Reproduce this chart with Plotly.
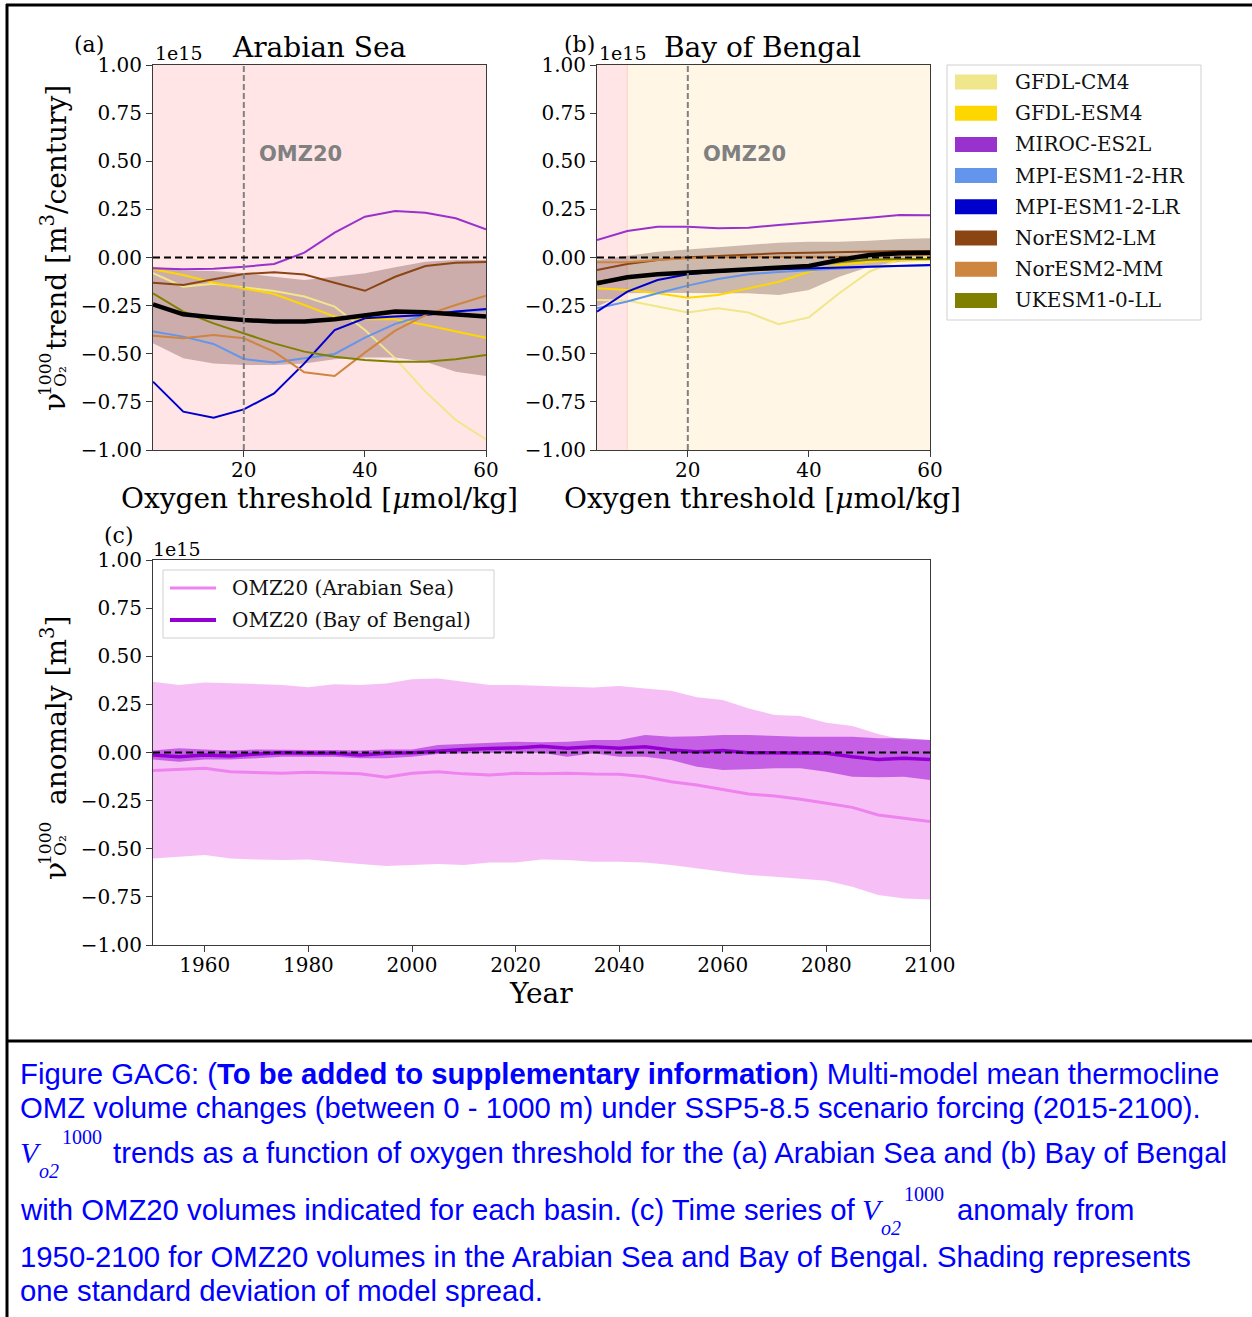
import plotly.graph_objects as go

W, H = 1252, 1317

# ---------------- data ----------------
thresholds = [5, 10, 15, 20, 25, 30, 35, 40, 45, 50, 55, 60]
models = ["GFDL-CM4", "GFDL-ESM4", "MIROC-ES2L", "MPI-ESM1-2-HR",
          "MPI-ESM1-2-LR", "NorESM2-LM", "NorESM2-MM", "UKESM1-0-LL"]
model_colors = ["#f0e68c", "#ffd700", "#9932cc", "#6495ed",
                "#0000cd", "#8b4513", "#cd853f", "#808000"]

# (a) Arabian Sea trends [1e15 m3/century]
as_gfdl_cm4 = [-0.082, -0.152, -0.137, -0.157, -0.174, -0.203, -0.255, -0.377, -0.524, -0.697, -0.844, -0.945]
as_gfdl_esm4 = [-0.061, -0.091, -0.131, -0.160, -0.190, -0.247, -0.307, -0.321, -0.321, -0.351, -0.385, -0.417]
as_miroc = [-0.056, -0.061, -0.058, -0.048, -0.034, 0.025, 0.129, 0.212, 0.242, 0.233, 0.204, 0.146]
as_mpi_hr = [-0.385, -0.411, -0.449, -0.527, -0.546, -0.524, -0.501, -0.416, -0.345, -0.299, -0.281, -0.273]
as_mpi_lr = [-0.645, -0.801, -0.832, -0.789, -0.706, -0.550, -0.377, -0.316, -0.307, -0.299, -0.281, -0.268]
as_noresm_lm = [-0.131, -0.143, -0.113, -0.086, -0.077, -0.088, -0.131, -0.173, -0.100, -0.044, -0.027, -0.023]
as_noresm_mm = [-0.406, -0.420, -0.403, -0.420, -0.489, -0.596, -0.616, -0.494, -0.380, -0.299, -0.247, -0.198]
as_ukesm = [-0.186, -0.281, -0.342, -0.394, -0.446, -0.489, -0.515, -0.532, -0.541, -0.541, -0.529, -0.506]
as_mean = [-0.243, -0.295, -0.311, -0.325, -0.333, -0.333, -0.321, -0.302, -0.281, -0.285, -0.294, -0.307]
as_upper = [-0.048, -0.068, -0.070, -0.082, -0.100, -0.117, -0.100, -0.082, -0.051, -0.022, -0.013, -0.013]
as_lower = [-0.446, -0.524, -0.550, -0.558, -0.558, -0.550, -0.529, -0.520, -0.520, -0.541, -0.593, -0.616]

# (b) Bay of Bengal trends [1e15 m3/century]
bob_gfdl_cm4 = [-0.221, -0.224, -0.255, -0.286, -0.264, -0.286, -0.347, -0.311, -0.186, -0.074, -0.008, 0.004]
bob_gfdl_esm4 = [-0.160, -0.169, -0.186, -0.209, -0.195, -0.160, -0.126, -0.074, -0.039, -0.022, -0.013, -0.010]
bob_miroc = [0.091, 0.138, 0.160, 0.160, 0.152, 0.155, 0.169, 0.181, 0.195, 0.207, 0.221, 0.219]
bob_mpi_hr = [-0.264, -0.229, -0.186, -0.146, -0.112, -0.087, -0.075, -0.065, -0.055, -0.048, -0.044, -0.042]
bob_mpi_lr = [-0.281, -0.177, -0.117, -0.087, -0.074, -0.065, -0.061, -0.056, -0.051, -0.048, -0.042, -0.039]
bob_noresm_lm = [-0.065, -0.034, -0.013, 0.001, 0.008, 0.015, 0.022, 0.025, 0.029, 0.030, 0.034, 0.034]
bob_noresm_mm = [-0.025, -0.025, -0.013, -0.004, 0.001, 0.004, 0.004, 0.004, 0.004, 0.008, 0.013, 0.013]
bob_ukesm = [-0.125, -0.105, -0.090, -0.080, -0.072, -0.065, -0.058, -0.045, -0.025, -0.012, -0.008, -0.008]
bob_mean = [-0.134, -0.103, -0.087, -0.079, -0.070, -0.061, -0.056, -0.044, -0.013, 0.013, 0.022, 0.025]
bob_upper = [-0.013, 0.008, 0.030, 0.042, 0.053, 0.065, 0.077, 0.082, 0.082, 0.087, 0.096, 0.100]
bob_lower = [-0.255, -0.186, -0.183, -0.183, -0.186, -0.186, -0.195, -0.169, -0.100, -0.048, -0.022, -0.016]

# (c) anomaly time series [1e15 m3]
years = [1950, 1955, 1960, 1965, 1970, 1975, 1980, 1985, 1990, 1995, 2000, 2005, 2010, 2015, 2020, 2025,
         2030, 2035, 2040, 2045, 2050, 2055, 2060, 2065, 2070, 2075, 2080, 2085, 2090, 2095, 2100]
ts_as_mean = [-0.094, -0.087, -0.082, -0.100, -0.105, -0.108, -0.103, -0.108, -0.111, -0.129, -0.108, -0.100,
              -0.111, -0.117, -0.108, -0.110, -0.108, -0.112, -0.113, -0.126, -0.152, -0.169, -0.191, -0.216,
              -0.226, -0.243, -0.264, -0.285, -0.325, -0.342, -0.359]
ts_as_upper = [0.368, 0.351, 0.364, 0.359, 0.355, 0.351, 0.339, 0.355, 0.351, 0.359, 0.380, 0.385, 0.368, 0.351,
               0.351, 0.345, 0.342, 0.338, 0.345, 0.333, 0.321, 0.287, 0.273, 0.229, 0.195, 0.190, 0.155, 0.138,
               0.096, 0.065, 0.065]
ts_as_lower = [-0.550, -0.541, -0.532, -0.550, -0.556, -0.558, -0.556, -0.567, -0.579, -0.589, -0.584, -0.579,
               -0.584, -0.572, -0.572, -0.556, -0.558, -0.567, -0.567, -0.572, -0.584, -0.602, -0.619, -0.636,
               -0.645, -0.654, -0.666, -0.697, -0.740, -0.758, -0.763]
ts_bob_mean = [-0.013, -0.022, -0.013, -0.018, -0.008, -0.001, -0.004, -0.004, -0.013, -0.004, -0.001, 0.009,
               0.016, 0.021, 0.024, 0.032, 0.022, 0.030, 0.022, 0.030, 0.013, 0.004, 0.010, -0.001, -0.001,
               -0.001, -0.004, -0.022, -0.036, -0.030, -0.036]
ts_bob_upper = [0.010, 0.022, 0.016, 0.010, 0.016, 0.013, 0.013, 0.013, 0.010, 0.016, 0.016, 0.039, 0.044,
                0.048, 0.056, 0.053, 0.056, 0.065, 0.065, 0.091, 0.082, 0.085, 0.091, 0.091, 0.085, 0.082,
                0.082, 0.082, 0.074, 0.074, 0.065]
ts_bob_lower = [-0.036, -0.048, -0.036, -0.036, -0.030, -0.022, -0.022, -0.022, -0.030, -0.030, -0.022, -0.008,
                -0.004, -0.001, 0.000, -0.001, -0.022, -0.004, -0.022, -0.022, -0.039, -0.074, -0.091, -0.087,
                -0.082, -0.082, -0.100, -0.126, -0.129, -0.126, -0.143]

y_tickvals = [-1.0, -0.75, -0.5, -0.25, 0.0, 0.25, 0.5, 0.75, 1.0]
y_ticktext = ["\u22121.00", "\u22120.75", "\u22120.50", "\u22120.25", "0.00", "0.25", "0.50", "0.75", "1.00"]
thr_tickvals = [20, 40, 60]
thr_ticktext = ["20", "40", "60"]
year_tickvals = [1960, 1980, 2000, 2020, 2040, 2060, 2080, 2100]
year_ticktext = ["1960", "1980", "2000", "2020", "2040", "2060", "2080", "2100"]

as_series = [as_gfdl_cm4, as_gfdl_esm4, as_miroc, as_mpi_hr, as_mpi_lr, as_noresm_lm, as_noresm_mm, as_ukesm]
bob_series = [bob_gfdl_cm4, bob_gfdl_esm4, bob_miroc, bob_mpi_hr, bob_mpi_lr, bob_noresm_lm, bob_noresm_mm, bob_ukesm]

# ---------------- helpers ----------------
def px(X):
    return X / W


def py(Y):
    return 1 - Y / H


SERIF = "DejaVu Serif"
fig = go.Figure()

BAND = "rgba(90,40,40,0.3)"

for xa, ya, series, mean, up, lo in [("x", "y", as_series, as_mean, as_upper, as_lower),
                                      ("x2", "y2", bob_series, bob_mean, bob_upper, bob_lower)]:
    fig.add_trace(go.Scatter(x=thresholds + thresholds[::-1], y=up + lo[::-1], fill="toself",
                             fillcolor=BAND, line=dict(width=0), mode="lines", xaxis=xa, yaxis=ya,
                             hoverinfo="skip", showlegend=False))
    for name, col, vals in zip(models, model_colors, series):
        fig.add_trace(go.Scatter(x=thresholds, y=vals, mode="lines", name=name,
                                 line=dict(color=col, width=2), xaxis=xa, yaxis=ya, showlegend=False))
    fig.add_trace(go.Scatter(x=thresholds, y=mean, mode="lines", line=dict(color="black", width=4.5),
                             xaxis=xa, yaxis=ya, showlegend=False))

# (c)
fig.add_trace(go.Scatter(x=years + years[::-1], y=ts_as_upper + ts_as_lower[::-1], fill="toself",
                         fillcolor="rgba(238,130,238,0.5)", line=dict(width=0), mode="lines",
                         xaxis="x3", yaxis="y3", hoverinfo="skip", showlegend=False))
fig.add_trace(go.Scatter(x=years, y=ts_as_mean, mode="lines", line=dict(color="violet", width=3),
                         xaxis="x3", yaxis="y3", showlegend=False))
fig.add_trace(go.Scatter(x=years + years[::-1], y=ts_bob_upper + ts_bob_lower[::-1], fill="toself",
                         fillcolor="rgba(148,0,211,0.5)", line=dict(width=0), mode="lines",
                         xaxis="x3", yaxis="y3", hoverinfo="skip", showlegend=False))
fig.add_trace(go.Scatter(x=years, y=ts_bob_mean, mode="lines", line=dict(color="darkviolet", width=3.5),
                         xaxis="x3", yaxis="y3", showlegend=False))


def axis(domain, rng, tv, tt, anchor, standoff=0):
    return dict(domain=domain, range=rng, tickvals=tv, ticktext=tt, anchor=anchor,
                showline=True, mirror=True, linecolor="#3a3a3a", linewidth=1,
                ticks="outside", ticklen=6, tickwidth=1, tickcolor="#3a3a3a",
                showgrid=False, zeroline=False, automargin=False, fixedrange=True,
                ticklabelstandoff=standoff,
                tickfont=dict(family=SERIF, size=20, color="black"))


dom_ab_y = [py(450), py(65)]
layout = dict(
    width=W, height=H, margin=dict(l=0, r=0, t=0, b=0),
    paper_bgcolor="white", plot_bgcolor="white", showlegend=False,
    xaxis=axis([px(153), px(486)], [5, 60], thr_tickvals, thr_ticktext, "y", -4),
    yaxis=axis(dom_ab_y, [-1, 1], y_tickvals, y_ticktext, "x"),
    xaxis2=axis([px(597), px(930)], [5, 60], thr_tickvals, thr_ticktext, "y2", -4),
    yaxis2=axis(dom_ab_y, [-1, 1], y_tickvals, y_ticktext, "x2"),
    xaxis3=axis([px(153), px(930)], [1950, 2100], year_tickvals, year_ticktext, "y3", -4),
    yaxis3=axis([py(945), py(560)], [-1, 1], y_tickvals, y_ticktext, "x3"),
)
fig.update_layout(**layout)

shapes = []
# background spans
shapes.append(dict(type="rect", xref="x", yref="y domain", x0=5, x1=60, y0=0, y1=1,
                   fillcolor="rgba(255,0,0,0.1)", line=dict(width=0), layer="below"))
shapes.append(dict(type="rect", xref="x2", yref="y2 domain", x0=5, x1=10, y0=0, y1=1,
                   fillcolor="rgba(255,0,0,0.1)", line=dict(width=0), layer="below"))
shapes.append(dict(type="rect", xref="x2", yref="y2 domain", x0=10, x1=60, y0=0, y1=1,
                   fillcolor="rgba(255,165,0,0.1)", line=dict(width=0), layer="below"))
shapes.append(dict(type="line", xref="x2", yref="y2 domain", x0=10, x1=10, y0=0, y1=1,
                   line=dict(color="rgba(255,120,90,0.25)", width=1), layer="below"))
# reference lines
for xr, yr in [("x", "y"), ("x2", "y2")]:
    shapes.append(dict(type="line", xref=xr, yref=yr + " domain", x0=20, x1=20, y0=0, y1=1,
                       line=dict(color="#808080", width=2, dash="6px,3px")))
    shapes.append(dict(type="line", xref=xr, yref=yr, x0=5, x1=60, y0=0, y1=0,
                       line=dict(color="black", width=2, dash="7px,4px")))
shapes.append(dict(type="line", xref="x3", yref="y3", x0=1950, x1=2100, y0=0, y1=0,
                   line=dict(color="black", width=2, dash="7px,4px")))

# frame lines of the page
shapes.append(dict(type="line", xref="paper", yref="paper", x0=px(6), x1=1, y0=py(5), y1=py(5),
                   line=dict(color="black", width=3)))
shapes.append(dict(type="line", xref="paper", yref="paper", x0=px(7), x1=px(7), y0=py(4), y1=0,
                   line=dict(color="black", width=3)))
shapes.append(dict(type="line", xref="paper", yref="paper", x0=px(7), x1=1, y0=py(1041), y1=py(1041),
                   line=dict(color="black", width=3)))

# legend (a)/(b)
shapes.append(dict(type="rect", xref="paper", yref="paper", x0=px(947), x1=px(1201), y0=py(320), y1=py(65),
                   fillcolor="white", line=dict(color="#d0d0d0", width=1)))
annotations = []
row_y = 82
for name, col in zip(models, model_colors):
    shapes.append(dict(type="rect", xref="paper", yref="paper", x0=px(955), x1=px(997),
                       y0=py(row_y + 7.5), y1=py(row_y - 7.5), fillcolor=col, line=dict(width=0)))
    annotations.append(dict(x=px(1013), y=py(row_y), xref="paper", yref="paper", text=name,
                            showarrow=False, xanchor="left", yanchor="middle",
                            font=dict(family=SERIF, size=20, color="#111")))
    row_y += 31.2

# legend (c)
shapes.append(dict(type="rect", xref="paper", yref="paper", x0=px(163), x1=px(494), y0=py(638), y1=py(570),
                   fillcolor="white", line=dict(color="#d0d0d0", width=1)))
for yy, col, wd, txt in [(588, "violet", 3, "OMZ20 (Arabian Sea)"), (620, "darkviolet", 4, "OMZ20 (Bay of Bengal)")]:
    shapes.append(dict(type="line", xref="paper", yref="paper", x0=px(170), x1=px(216), y0=py(yy), y1=py(yy),
                       line=dict(color=col, width=wd)))
    annotations.append(dict(x=px(230), y=py(yy), xref="paper", yref="paper", text=txt, showarrow=False,
                            xanchor="left", yanchor="middle", font=dict(family=SERIF, size=20, color="#111")))


def ann(X, Y, text, size, xanchor="center", yanchor="middle", family=SERIF, color="black", angle=0):
    annotations.append(dict(x=px(X), y=py(Y), xref="paper", yref="paper", text=text, showarrow=False,
                            xanchor=xanchor, yanchor=yanchor, textangle=angle,
                            font=dict(family=family, size=size, color=color)))


# panel labels, titles, offsets
ann(89, 45, "(a)", 22)
ann(579, 45, "(b)", 22)
ann(119, 535, "(c)", 22)
ann(319, 47, "Arabian Sea", 28)
ann(763, 47, "Bay of Bengal", 28)
ann(153, 53, "1e15", 19, xanchor="left")
ann(597, 53, "1e15", 19, xanchor="left")
ann(151, 549, "1e15", 19, xanchor="left")
# axis titles
ann(319, 498, "Oxygen threshold [<i>\u03bc</i>mol/kg]", 28)
ann(763, 498, "Oxygen threshold [<i>\u03bc</i>mol/kg]", 28)
ann(541, 994, "Year", 28)
# y titles (rotated)
ann(54, 218, "trend [m<sup>3</sup>/century]", 28, angle=-90)
ann(55, 402, "\u03bd", 30, angle=-90)
ann(45, 375, "1000", 17, angle=-90)
ann(60, 377, "O\u2082", 17, angle=-90)
ann(54, 711, "anomaly [m<sup>3</sup>]", 28, angle=-90)
ann(55, 871, "\u03bd", 30, angle=-90)
ann(45, 844, "1000", 17, angle=-90)
ann(60, 846, "O\u2082", 17, angle=-90)

# OMZ20 labels
for xr, yr in [("x", "y"), ("x2", "y2")]:
    annotations.append(dict(x=22.2, y=0.54, xref=xr, yref=yr, text="<b>OMZ20</b>", showarrow=False,
                            xanchor="left", yanchor="middle",
                            font=dict(family="DejaVu Sans", size=21, color="gray")))

# caption
CAP = "Liberation Sans"
BLUE = "#0000ff"
CS = 29.3
ann(18, 1073, "Figure GAC6: (<b>To be added to supplementary information</b>) Multi-model mean thermocline",
    CS, xanchor="left", family=CAP, color=BLUE)
ann(18, 1107, "OMZ volume changes (between 0 - 1000 m) under SSP5-8.5 scenario forcing (2015-2100).",
    CS, xanchor="left", family=CAP, color=BLUE)
ann(18, 1152, "<i>V</i>", 30, xanchor="left", family="Liberation Serif", color=BLUE)
ann(37, 1171, "<i>o2</i>", 20, xanchor="left", family="Liberation Serif", color=BLUE)
ann(60, 1137, "1000", 20, xanchor="left", family="Liberation Serif", color=BLUE)
ann(111, 1152, "trends as a function of oxygen threshold for the (a) Arabian Sea and (b) Bay of Bengal",
    CS, xanchor="left", family=CAP, color=BLUE)
ann(18, 1209, "with OMZ20 volumes indicated for each basin. (c) Time series of",
    CS, xanchor="left", family=CAP, color=BLUE)
ann(860, 1209, "<i>V</i>", 30, xanchor="left", family="Liberation Serif", color=BLUE)
ann(879, 1228, "<i>o2</i>", 20, xanchor="left", family="Liberation Serif", color=BLUE)
ann(902, 1194, "1000", 20, xanchor="left", family="Liberation Serif", color=BLUE)
ann(955, 1209, "anomaly from", CS, xanchor="left", family=CAP, color=BLUE)
ann(18, 1256, "1950-2100 for OMZ20 volumes in the Arabian Sea and Bay of Bengal. Shading represents",
    CS, xanchor="left", family=CAP, color=BLUE)
ann(18, 1290, "one standard deviation of model spread.", CS, xanchor="left", family=CAP, color=BLUE)

fig.update_layout(shapes=shapes, annotations=annotations)
fig.write_html("out.html", config={"displayModeBar": False},
               post_script="document.body.style.margin='0px';")
